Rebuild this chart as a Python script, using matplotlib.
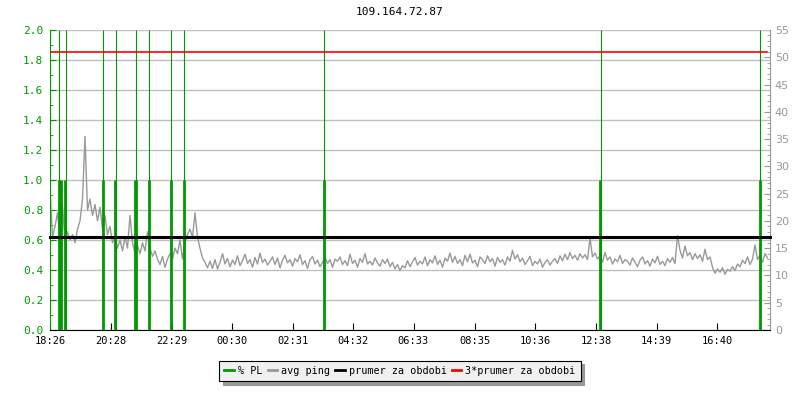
# -*- coding: utf-8 -*-
# ping / packet loss graph for 109.164.72.87

import numpy as np
import pandas as pd
import matplotlib
matplotlib.use("Agg")
import matplotlib.pyplot as plt
from matplotlib.ticker import MultipleLocator
from matplotlib.lines import Line2D
from matplotlib.transforms import blended_transform_factory

# data
title = "109.164.72.87"
tick_labels = ["18:26", "20:28", "22:29", "00:30", "02:31", "04:32",
               "06:33", "08:35", "10:36", "12:38", "14:39", "16:40"]
span_minutes = 1440
ping_step = 5  # minutes between ping samples

# avg ping [ms], one value every 5 minutes from 18:26
ping = [
    26.0, 17.0, 19.0, 21.5, 17.0, 23.0, 16.0, 18.0, 16.5, 17.5,
    16.0, 18.5, 20.0, 24.0, 35.5, 22.0, 24.0, 21.0, 23.0, 20.0,
    22.5, 18.5, 21.0, 17.5, 19.0, 16.0, 17.0, 15.0, 16.5, 14.5,
    17.0, 15.0, 21.0, 16.0, 14.0, 15.5, 14.0, 16.0, 14.5, 18.0,
    15.0, 13.5, 14.5, 13.0, 12.0, 13.5, 11.5, 13.0, 14.0, 13.0,
    15.0, 14.0, 16.5, 13.0, 16.0, 17.5, 18.5, 17.0, 21.5, 17.0,
    15.0, 13.2, 12.4, 11.4, 12.6, 11.3, 12.9, 11.2, 12.4, 14.0,
    12.1, 13.1, 11.6, 12.8, 12.0, 13.6, 11.8, 12.7, 13.9, 12.2,
    12.9, 11.5, 13.3, 12.1, 14.1, 12.4, 13.0, 11.9, 12.6, 13.4,
    12.0, 13.2, 11.4, 12.8, 13.7, 12.3, 12.9, 11.7, 13.1, 12.5,
    13.8, 12.0, 12.7, 11.3, 12.9, 13.5, 12.1, 12.8, 11.6, 12.4,
    13.3, 12.2, 12.9, 11.5, 13.0,
    12.6, 13.4, 12.0, 12.7, 11.8, 13.9, 12.2, 12.8, 11.5, 13.1,
    12.4, 14.0, 12.1, 12.6, 11.9, 13.2, 12.3, 11.7, 12.9, 12.2,
    13.0, 11.6, 12.4, 11.2, 12.0, 10.9, 11.8, 11.4, 12.7, 11.6,
    12.5, 13.3, 11.9, 12.6, 12.1, 13.4, 11.8, 12.9, 12.3, 13.6,
    12.0, 12.8, 11.5, 13.2, 12.6, 14.1, 12.4, 13.5, 12.2, 12.9,
    11.8, 13.7, 12.5, 13.9, 12.3, 12.8, 11.6, 13.4,
    12.9, 12.2, 13.6, 12.5, 13.1, 11.7, 13.3, 12.4, 12.9, 11.9,
    13.4, 12.6, 14.6, 13.0, 13.8, 12.5, 13.2, 12.0, 12.7, 13.5,
    11.8, 12.6, 12.1, 13.0, 11.5, 12.4, 12.9, 11.9, 12.6, 13.1,
    12.2, 13.6, 12.7, 13.9, 12.9, 14.2, 13.1, 13.7, 12.8, 14.0,
    13.2, 13.8, 12.9, 16.9, 13.4, 14.1, 13.0, 13.6, 12.4, 14.2,
    12.8, 13.4, 12.1, 13.0, 12.5, 13.7, 12.2, 12.9,
    12.6, 11.9, 13.2, 12.4, 11.6, 12.8, 13.4, 12.1, 12.7, 11.7,
    13.0, 12.3, 13.5, 12.0, 12.6, 11.8, 13.1, 12.4, 13.3, 12.2,
    17.3, 14.6, 13.2, 15.4, 13.6, 14.2, 12.9, 14.0, 13.1, 13.8,
    12.6, 14.8, 12.9, 13.4,
    11.5, 10.4, 11.2, 10.6, 11.4, 10.2, 11.1, 10.8, 11.6, 10.9,
    12.1, 11.6, 12.8, 12.2, 13.4, 12.0, 13.0, 15.6, 12.9, 13.8,
    12.4, 14.0, 13.2,
]
prumer = 17.0  # ms, average over period

# packet loss events [minutes from 18:26] and value [%]
pl_times = [18, 21, 29, 106, 129, 169, 172, 198, 242, 267, 548, 1099, 1420]
pl_values = [1.0, 1.0, 1.0, 1.0, 1.0, 1.0, 1.0, 1.0, 1.0, 1.0, 1.0, 1.0, 1.0]
# loss spikes going off the scale
spike_times = [17, 31, 105, 131, 171, 197, 241, 267, 547, 1101, 1419]

green = "#009a00"
gray = "#999999"
mono = "DejaVu Sans Mono"

# tick positions from the time labels
t = pd.to_datetime(tick_labels, format="%H:%M")
tick_pos = (t - t[0]).total_seconds() / 60.0
tick_pos = np.where(tick_pos < 0, tick_pos + 1440, tick_pos)

x_ping = np.arange(len(ping)) * ping_step

fig = plt.figure(figsize=(8, 4), dpi=100)
ax = fig.add_axes([0.0625, 0.175, 0.9, 0.75])
ax2 = ax.twinx()
ax.set_zorder(ax2.get_zorder() + 1)
ax.patch.set_visible(False)

ax.set_xlim(0, span_minutes)
ax.set_ylim(0, 2.0)
ax2.set_ylim(0, 55)

ax.grid(axis="y", color="#c0c0c0", lw=1)
ax.set_axisbelow(True)

ax.plot(x_ping, ping, color=gray, lw=1.0, transform=ax2.transData, zorder=2)
ax.vlines(pl_times, 0, pl_values, color=green, lw=2.0, zorder=3)
ax.vlines(spike_times, 0, ax.get_ylim()[1], color=green, lw=0.8, zorder=3)

tr = blended_transform_factory(ax.transAxes, ax2.transData)
ax.plot([0, 1], [prumer, prumer], color="black", lw=2.2, transform=tr,
        zorder=4, clip_on=False)
ax.plot([0, 0.996], [3 * prumer, 3 * prumer], color="red", lw=1.2,
        transform=tr, zorder=4)

# axes styling
ax.spines["top"].set_visible(False)
ax.spines["right"].set_visible(False)
ax.spines["left"].set_color(green)
ax.spines["bottom"].set_color("black")
for s in ["top", "left", "bottom"]:
    ax2.spines[s].set_visible(False)
ax2.spines["right"].set_color(gray)

ax.set_xticks(tick_pos)
ax.set_xticklabels(tick_labels, family=mono, fontsize=7.5)
ax.tick_params(axis="x", direction="in", length=5, pad=4)

ax.yaxis.set_major_locator(MultipleLocator(0.2))
ax.yaxis.set_minor_locator(MultipleLocator(0.1))
ax.set_yticks(ax.get_yticks())
ax.set_yticklabels(["%.1f" % v for v in ax.get_yticks()], family=mono,
                   fontsize=8)
ax.set_ylim(0, 2.0)
ax.tick_params(axis="y", which="both", direction="in", colors=green, pad=5)
ax.tick_params(axis="y", which="major", length=4)
ax.tick_params(axis="y", which="minor", length=2.5)

ax2.yaxis.set_major_locator(MultipleLocator(5))
ax2.yaxis.set_minor_locator(MultipleLocator(1))
ax2.tick_params(axis="y", which="both", direction="in", colors=gray,
                labelsize=8, pad=3.5)
ax2.tick_params(axis="y", which="major", length=4.5)
ax2.tick_params(axis="y", which="minor", length=2.5)

fig.text(0.5, 0.97, title, ha="center", va="center", family=mono,
         fontsize=8)

handles = [Line2D([], [], color=green, lw=2),
           Line2D([], [], color=gray, lw=2),
           Line2D([], [], color="black", lw=2),
           Line2D([], [], color="red", lw=2)]
labels = ["% PL", "avg ping", "prumer za obdobi", "3*prumer za obdobi"]
leg = ax.legend(handles, labels, loc="center", bbox_to_anchor=(0.5, 0.0725),
                bbox_transform=fig.transFigure,
                ncol=4, prop={"family": mono, "size": 7.3}, frameon=True,
                fancybox=False, edgecolor="black", facecolor="#f0f0f0",
                framealpha=1, borderpad=0.5, handlelength=0.9,
                handletextpad=0.4, columnspacing=0.55,
                shadow={"ox": 2.5, "oy": -2.5, "facecolor": "#999999",
                        "edgecolor": "#999999", "alpha": 1})
leg.get_frame().set_linewidth(0.8)

plt.savefig("out.png", dpi=100)
